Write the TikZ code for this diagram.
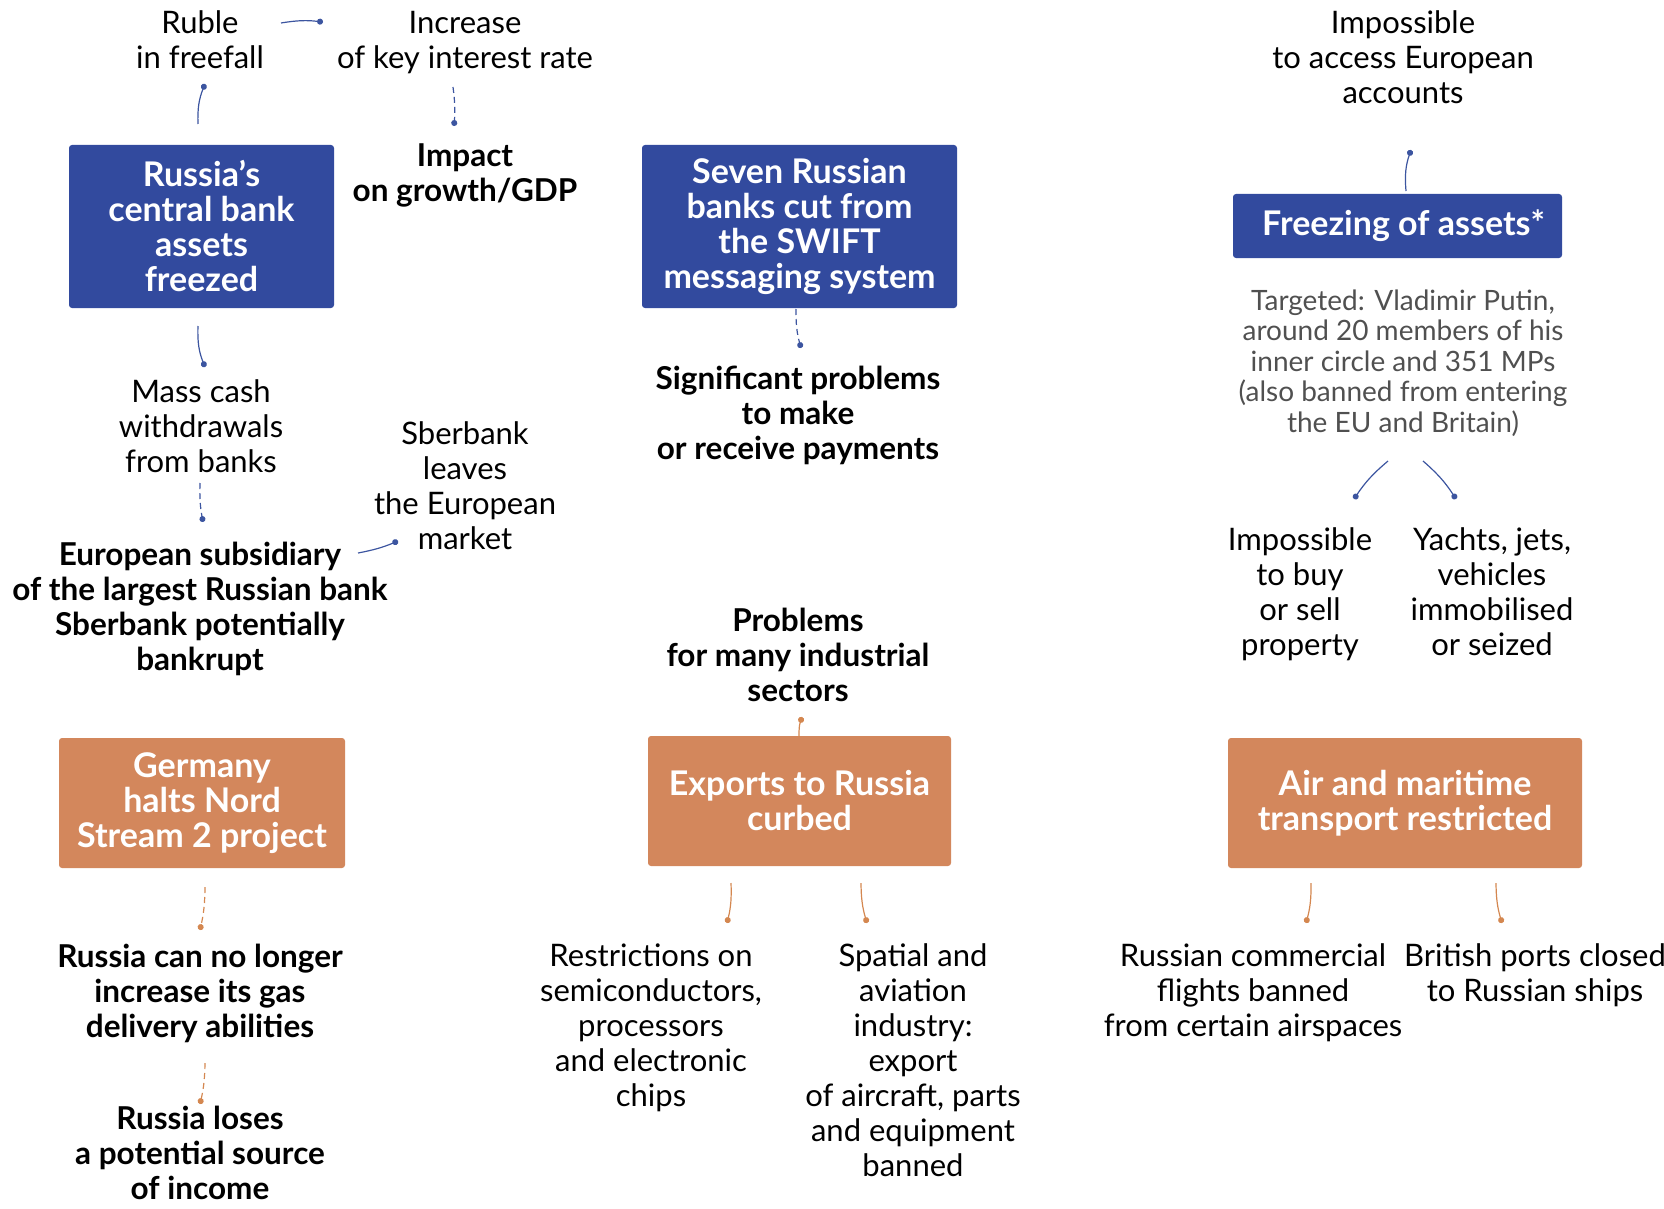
\documentclass[tikz,border=0pt]{standalone}
\usepackage{fontspec}
\setmainfont{Lato}
\usetikzlibrary{arrows.meta}
\definecolor{bbox}{RGB}{50,74,158}
\definecolor{obox}{RGB}{211,135,92}
\definecolor{bline}{RGB}{60,85,160}
\definecolor{oline}{RGB}{212,135,80}
\definecolor{greytxt}{RGB}{80,80,80}
\begin{document}
\begin{tikzpicture}[x=1pt,y=-1pt,
  txt/.style={align=center, inner sep=0pt, font=\fontsize{31}{35}\selectfont},
  btxt/.style={align=center, inner sep=0pt, font=\fontsize{31.5}{35}\selectfont\bfseries},
  gtxt/.style={align=center, inner sep=0pt, text=greytxt, font=\fontsize{28}{30.5}\selectfont},
  sbox/.style={rounded corners=3pt, align=center, inner sep=0pt, text=white, font=\fontsize{34}{35}\selectfont\bfseries},
  bluebox/.style={sbox, fill=bbox},
  orbox/.style={sbox, fill=obox},
  bl/.style={draw=bline, line width=1.2pt, -{Circle[length=6pt]}},
  bld/.style={bl, dash pattern=on 6pt off 4pt},
  ol/.style={draw=oline, line width=1.2pt, -{Circle[length=6pt]}},
  old/.style={ol, dash pattern=on 6pt off 4pt}]
\useasboundingbox (0,0) rectangle (1664,1209);

% ---- blue group, left
\node[txt] (ruble) at (200,40) {Ruble\\in freefall};
\node[txt] (incr) at (465,43) {Increase\\of key interest rate};
\node[btxt] (impact) at (465,175) {Impact\\on growth/GDP};
\node[bluebox, minimum width=265pt, minimum height=163pt] (b1) at (201.5,226.5) {Russia’s\\central bank\\assets\\freezed};
\node[txt] (mass) at (201,426) {Mass cash\\withdrawals\\from banks};
\node[btxt] (sub) at (200,609) {European subsidiary\\of the largest Russian bank\\Sberbank potentially\\bankrupt};
\node[txt] (sber) at (465,486) {Sberbank\\leaves\\the European\\market};

% ---- blue group, middle
\node[bluebox, minimum width=315pt, minimum height=163pt] (b2) at (799.5,226.5) {Seven Russian\\banks cut from\\the SWIFT\\messaging system};
\node[btxt] (sig) at (798,415) {Significant problems\\to make\\or receive payments};

% ---- blue group, right
\node[txt] (acc) at (1403,57) {Impossible\\to access European\\accounts};
\node[bluebox, minimum width=329pt, minimum height=64pt] (b3) at (1397.5,226) {\hspace{12pt}Freezing of assets*};
\node[gtxt] (targ) at (1403,363) {Targeted: Vladimir Putin,\\around 20 members of his\\inner circle and 351 MPs\\(also banned from entering\\the EU and Britain)};
\node[txt] (buy) at (1300,594) {Impossible\\to buy\\or sell\\property};
\node[txt] (yacht) at (1492,591.5) {Yachts, jets,\\vehicles\\immobilised\\or seized};

% ---- orange group
\node[orbox, minimum width=286pt, minimum height=130pt] (b4) at (202,803) {Germany\\halts Nord\\Stream 2 project};
\node[btxt] (gas) at (200,993) {Russia can no longer\\increase its gas\\delivery abilities};
\node[btxt] (loses) at (200,1153) {Russia loses\\a potential source\\of income};

\node[orbox, minimum width=303pt, minimum height=130pt] (b5) at (799.5,801) {Exports to Russia\\curbed};
\node[btxt] (prob) at (798,655) {Problems\\for many industrial\\sectors};
\node[txt] (restr) at (651,1028) {Restrictions on\\semiconductors,\\processors\\and electronic\\chips};
\node[txt] (spat) at (913,1060) {Spatial and\\aviation\\industry:\\export\\of aircraft, parts\\and equipment\\banned};

\node[orbox, minimum width=354pt, minimum height=130pt] (b6) at (1405,803) {Air and maritime\\transport restricted};
\node[txt] (flights) at (1253,993) {Russian commercial\\flights banned\\from certain airspaces};
\node[txt] (ports) at (1535,975) {British ports closed\\to Russian ships};

% ---- connector end points
\coordinate (c1s) at (198,124);  \coordinate (c1e) at (205,84);
\coordinate (c2s) at (281,23);   \coordinate (c2e) at (323,22);
\coordinate (c3s) at (453,87);   \coordinate (c3e) at (454,126);
\coordinate (c4s) at (198,326);  \coordinate (c4e) at (205,367);
\coordinate (c5s) at (200,483);  \coordinate (c5e) at (203,522);
\coordinate (c6s) at (358,553);  \coordinate (c6e) at (398,541);
\coordinate (c7s) at (796,309);  \coordinate (c7e) at (801,348);
\coordinate (c8s) at (1406,191); \coordinate (c8e) at (1411,150);
\coordinate (c9s) at (1388,461); \coordinate (c9e) at (1354,499);
\coordinate (c10s) at (1423,461); \coordinate (c10e) at (1456,499);
\coordinate (c11s) at (205,887); \coordinate (c11e) at (200,930);
\coordinate (c12s) at (205,1063); \coordinate (c12e) at (200,1104);
\coordinate (c13s) at (799,737); \coordinate (c13e) at (802,717);
\coordinate (c14s) at (731,883); \coordinate (c14e) at (727,923);
\coordinate (c15s) at (861,883); \coordinate (c15e) at (867,923);
\coordinate (c16s) at (1311,883); \coordinate (c16e) at (1306,923);
\coordinate (c17s) at (1496,883); \coordinate (c17e) at (1502,923);

% ---- connectors
\draw[bl] (c1s) to[bend left=12] (c1e);
\draw[bl] (c2s) to[bend left=8] (c2e);
\draw[bld] (c3s) to[bend left=6] (c3e);
\draw[bl] (c4s) to[bend right=12] (c4e);
\draw[bld] (c5s) to[bend right=6] (c5e);
\draw[bl] (c6s) to[bend right=6] (c6e);
\draw[bld] (c7s) to[bend right=8] (c7e);
\draw[bl] (c8s) to[bend left=12] (c8e);
\draw[bl] (c9s) to[bend right=8] (c9e);
\draw[bl] (c10s) to[bend left=8] (c10e);
\draw[old] (c11s) to[bend left=6] (c11e);
\draw[old] (c12s) to[bend left=6] (c12e);
\draw[ol] (c13s) to[bend left=10] (c13e);
\draw[ol] (c14s) to[bend left=8] (c14e);
\draw[ol] (c15s) to[bend right=8] (c15e);
\draw[ol] (c16s) to[bend left=8] (c16e);
\draw[ol] (c17s) to[bend right=8] (c17e);
\end{tikzpicture}
\end{document}
